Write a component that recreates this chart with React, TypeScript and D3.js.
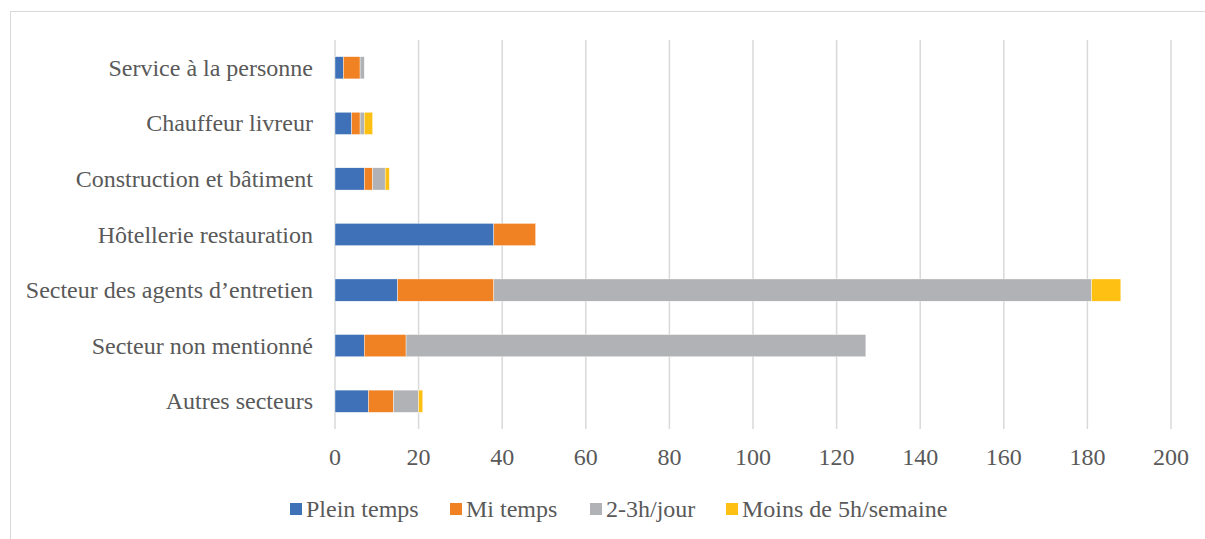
import React from "react";
import * as d3 from "d3";

const categories = [
  "Service à la personne",
  "Chauffeur livreur",
  "Construction et bâtiment ",
  "Hôtellerie restauration",
  "Secteur des agents d’entretien",
  "Secteur non mentionné",
  "Autres secteurs",
];
const seriesNames = ["Plein temps", "Mi temps", "2-3h/jour", "Moins de 5h/semaine"];
const pleinTemps = [2, 4, 7, 38, 15, 7, 8];
const miTemps = [4, 2, 2, 10, 23, 10, 6];
const deuxTroisH = [1, 1, 3, 0, 143, 110, 6];
const moins5h = [0, 2, 1, 0, 7, 0, 1];
const xTicks = [0, 20, 40, 60, 80, 100, 120, 140, 160, 180, 200];
const colors = ["#3E71B8", "#F08224", "#B1B2B5", "#FFC014"];

const W = 1205;
const H = 539;
const left = 335;
const right = 1171;
const top = 40;
const bottom = 429;
const font = "'Liberation Serif', Tinos, 'Times New Roman', Times, 'Nimbus Roman', 'Nimbus Roman No9 L', FreeSerif, 'Noto Serif', 'DejaVu Serif', serif";
const textColor = "#595959";

export default function App() {
  const x = d3.scaleLinear().domain([0, 200]).range([left, right]);
  const y = d3.scaleBand<string>().domain(categories).range([top, bottom]).paddingInner(0.6).paddingOuter(0.3);
  const rows = categories.map((c, i) => ({
    cat: c,
    v: [pleinTemps[i], miTemps[i], deuxTroisH[i], moins5h[i]],
  }));
  const stack = d3.stack<any>().keys(["0", "1", "2", "3"]).value((d, k) => d.v[+k]);
  const stacked = stack(rows);
  const legendX = [290, 450, 590, 726];
  const ts = { fontFamily: font, fontSize: "24px", fill: textColor } as React.CSSProperties;

  return (
    <svg width={W} height={H} style={{ position: "absolute", left: 0, top: 0, background: "#fff" }}>
      <rect x={10.5} y={11.5} width={1220} height={560} fill="#fff" stroke="#d9d9d9" strokeWidth={1} />
      {xTicks.map((t) => (
        <line key={t} x1={x(t)} x2={x(t)} y1={top} y2={bottom} stroke="#d9d9d9" strokeWidth={1.5} />
      ))}
      {stacked.map((layer, si) =>
        layer.map((d, ci) => {
          const w = x(d[1]) - x(d[0]);
          if (w <= 0) return null;
          return (
            <rect
              key={si + "-" + ci}
              x={x(d[0])}
              y={y(categories[ci])}
              width={w}
              height={y.bandwidth()}
              fill={colors[si]}
              stroke="#fff"
              strokeWidth={0.4}
            />
          );
        })
      )}
      {categories.map((c) => (
        <text
          key={c}
          x={313}
          y={(y(c) as number) + y.bandwidth() / 2 + 8}
          textAnchor="end"
          style={ts}
        >
          {c}
        </text>
      ))}
      {xTicks.map((t) => (
        <text key={t} x={x(t)} y={465} textAnchor="middle" style={ts}>
          {t}
        </text>
      ))}
      {seriesNames.map((s, i) => (
        <g key={s}>
          <rect x={legendX[i]} y={503} width={12} height={12} fill={colors[i]} />
          <text x={legendX[i] + 16} y={517} style={ts}>
            {s}
          </text>
        </g>
      ))}
    </svg>
  );
}
